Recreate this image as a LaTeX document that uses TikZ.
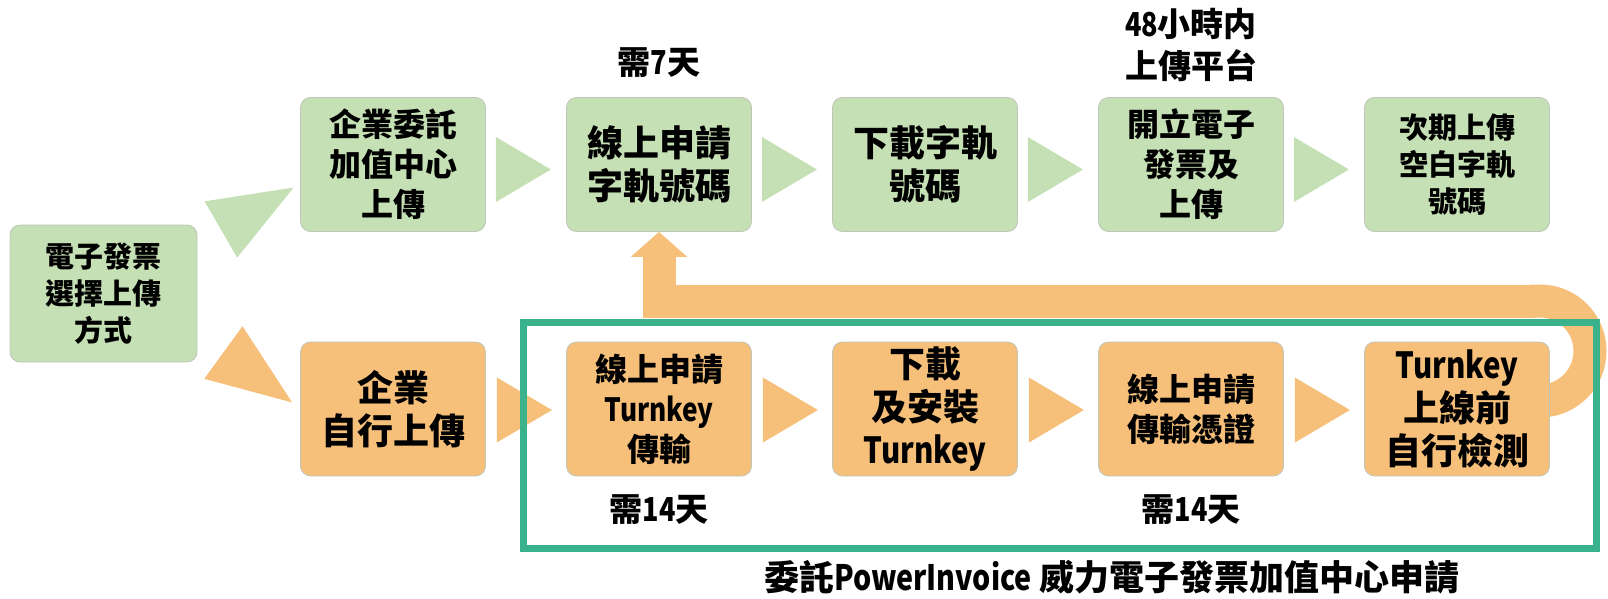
\documentclass[tikz,border=0pt]{standalone}
\usepackage{fontspec}
\setmainfont{Noto Sans CJK TC}[BoldFont={Noto Sans CJK TC Black}]
\usetikzlibrary{calc,arrows.meta,backgrounds}

\definecolor{greenfill}{RGB}{197,224,180}
\definecolor{orangefill}{RGB}{246,192,122}
\definecolor{boxedge}{RGB}{190,198,186}
\definecolor{frameteal}{RGB}{58,178,140}

\tikzset{
  stepbox/.style={draw=boxedge, line width=0.8pt, rounded corners=10pt,
    minimum width=185pt, minimum height=134pt, inner sep=0pt, align=center},
  greenbox/.style={stepbox, fill=greenfill},
  orangebox/.style={stepbox, fill=orangefill},
  txtL/.style={font=\fontsize{36}{43}\selectfont\bfseries},
  txtM/.style={font=\fontsize{32}{40}\selectfont\bfseries},
  txtS/.style={font=\fontsize{29}{37}\selectfont\bfseries},
  note/.style={align=center, inner sep=0pt, font=\fontsize{33}{42}\selectfont\bfseries},
  band/.style={draw=orangefill, line width=33pt},
  frame/.style={draw=frameteal, line width=7pt}
}
% narrow latin words
\newcommand\narrow[1]{\scalebox{0.82}[1]{#1}}
% triangle arrow: colour, base point, angle, length
\newcommand\steparrow[4]{\fill[#1, shift={#2}, rotate=#3] (0,-32.5) -- (#4,0) -- (0,32.5) -- cycle;}

\begin{document}
\begin{tikzpicture}[x=1pt,y=-1pt]
\useasboundingbox (0,0) rectangle (1608,599);

% start
\node[greenbox, txtS, minimum width=187pt, minimum height=137pt] (start) at (103.5,293.5) {電子發票\\選擇上傳\\方式};

% top row
\node[greenbox, txtM] (t1) at (393,164.5) {企業委託\\加值中心\\上傳};
\node[greenbox, txtL] (t2) at (659,164.5) {線上申請\\字軌號碼};
\node[greenbox, txtL] (t3) at (925,164.5) {下載字軌\\號碼};
\node[greenbox, txtM] (t4) at (1191,164.5) {開立電子\\發票及\\上傳};
\node[greenbox, txtS] (t5) at (1457,164.5) {次期上傳\\空白字軌\\號碼};

% bottom row
\node[orangebox, txtL] (b1) at (393,409) {企業\\自行上傳};
\node[orangebox, txtM] (b2) at (659,409) {線上申請\\\narrow{Turnkey}\\傳輸};
\node[orangebox, txtL] (b3) at (925,409) {下載\\及安裝\\\narrow{Turnkey}};
\node[orangebox, txtM] (b4) at (1191,409) {線上申請\\傳輸憑證};
\node[orangebox, txtL] (b5) at (1457,409) {\narrow{Turnkey}\\上線前\\自行檢測};

% notes
\node[note] (n1) at (659,63) {需\narrow{7}天};
\node[note] (n2) at (1191,45) {\narrow{48}小時内\\上傳平台};
\node[note] (n3) at (659,510) {需\narrow{14}天};
\node[note] (n4) at (1191,510) {需\narrow{14}天};

% arrows
\steparrow{greenfill}{($(start.east)+(23.5,-64)$)}{30}{84}
\steparrow{orangefill}{($(start.east)+(26,59)$)}{-36}{85}
\foreach \a in {t1, t2, t3, t4}
  {\steparrow{greenfill}{($(\a.east)+(10,5)$)}{0}{55}}
\foreach \a in {b1, b2, b3, b4}
  {\steparrow{orangefill}{($(\a.east)+(11,1)$)}{0}{55}}

% loop back
\coordinate (loopT) at (1590,301);
\coordinate (loopB) at (1590,401);
\coordinate (bendL) at (t2.south |- loopT);
\begin{scope}[on background layer]
\draw[band, rounded corners=50pt] ($(b5.center)+(0,-8)$) -- (loopB) -- (loopT) -- ($(loopT)+(-60,0)$);
\end{scope}
\draw[band, -{Triangle[width=55pt,length=25pt]}] ($(loopT)+(-55,0)$) -- (bendL) -- (t2.south);

% frame
\draw[frame] (523,322) rectangle (1596,548);
\node[note, font=\fontsize{35}{42}\selectfont\bfseries] (cap) at (1112,577) {委託\narrow{PowerInvoice} 威力電子發票加值中心申請};
\end{tikzpicture}
\end{document}
